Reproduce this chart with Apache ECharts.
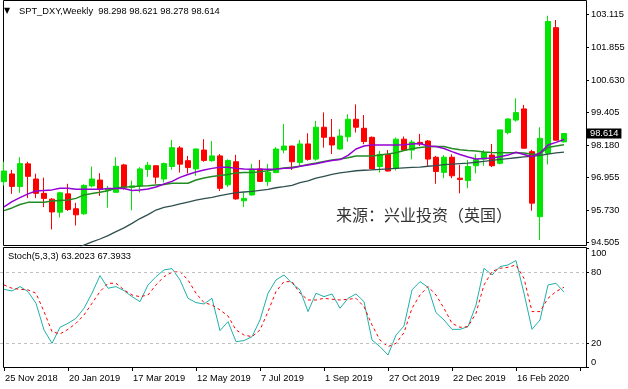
<!DOCTYPE html>
<html><head><meta charset="utf-8">
<script src="https://cdn.jsdelivr.net/npm/echarts@6/dist/echarts.min.js"></script>
<style>html,body{margin:0;padding:0;background:#fff}#c{width:628px;height:389px}</style>
</head><body><div id="c"></div>
<script>
const dates = ["25 Nov 2018","2 Dec 2018","9 Dec 2018","16 Dec 2018","23 Dec 2018","30 Dec 2018","6 Jan 2019","13 Jan 2019","20 Jan 2019","27 Jan 2019","3 Feb 2019","10 Feb 2019","17 Feb 2019","24 Feb 2019","3 Mar 2019","10 Mar 2019","17 Mar 2019","24 Mar 2019","31 Mar 2019","7 Apr 2019","14 Apr 2019","21 Apr 2019","28 Apr 2019","5 May 2019","12 May 2019","19 May 2019","26 May 2019","2 Jun 2019","9 Jun 2019","16 Jun 2019","23 Jun 2019","30 Jun 2019","7 Jul 2019","14 Jul 2019","21 Jul 2019","28 Jul 2019","4 Aug 2019","11 Aug 2019","18 Aug 2019","25 Aug 2019","1 Sep 2019","8 Sep 2019","15 Sep 2019","22 Sep 2019","29 Sep 2019","6 Oct 2019","13 Oct 2019","20 Oct 2019","27 Oct 2019","3 Nov 2019","10 Nov 2019","17 Nov 2019","24 Nov 2019","1 Dec 2019","8 Dec 2019","15 Dec 2019","22 Dec 2019","29 Dec 2019","5 Jan 2020","12 Jan 2020","19 Jan 2020","26 Jan 2020","2 Feb 2020","9 Feb 2020","16 Feb 2020","23 Feb 2020","1 Mar 2020","8 Mar 2020","15 Mar 2020","22 Mar 2020","29 Mar 2020"];
const opens  = [96.80,97.09,96.62,97.47,96.90,96.36,96.14,95.65,96.34,95.78,95.59,96.64,96.86,96.47,96.40,97.43,96.59,96.64,97.26,97.40,96.90,97.37,98.07,97.59,97.28,97.99,97.59,97.77,96.68,97.55,96.08,96.30,97.28,96.80,97.14,97.99,98.14,97.52,98.22,97.65,98.85,98.47,98.03,98.49,99.15,98.81,98.47,97.37,97.83,97.30,98.40,97.99,98.28,98.33,97.72,97.15,97.72,96.93,96.84,97.40,97.65,97.80,97.49,98.65,99.12,99.54,97.93,95.48,97.87,102.60,98.298];
const highs  = [97.55,97.24,97.72,97.55,97.10,96.95,96.18,96.42,96.72,96.00,96.70,97.37,97.12,96.64,97.72,97.47,96.84,97.35,97.54,97.42,97.52,98.37,98.14,97.77,98.05,98.40,98.33,97.84,97.64,97.81,96.40,97.47,97.62,97.47,98.10,98.97,98.16,98.37,98.62,99.09,99.41,99.16,98.78,99.34,99.71,99.31,98.50,97.96,97.99,98.46,98.50,98.37,98.60,98.37,97.77,97.80,97.83,97.43,97.62,97.83,97.99,98.22,98.76,99.19,99.94,99.69,98.00,98.85,103.05,102.89,98.621];
const lows   = [96.65,96.34,96.38,96.18,96.18,95.84,95.00,95.45,95.70,95.15,95.55,96.59,96.26,95.82,96.38,96.50,95.72,96.39,96.98,96.72,96.77,97.25,97.14,97.11,97.02,97.55,97.55,96.45,96.60,96.12,95.84,96.27,96.80,96.64,97.12,97.87,97.24,97.39,97.59,97.59,98.08,97.84,98.00,98.30,98.65,98.21,97.26,97.14,97.18,97.22,97.96,97.64,98.14,97.39,96.72,96.93,96.93,96.36,96.55,97.11,97.40,97.35,97.45,98.58,99.06,98.04,95.71,94.60,97.45,98.33,98.278];
const closes = [97.20,96.62,97.48,97.00,96.36,96.17,95.66,96.38,95.75,95.55,96.66,96.90,96.51,96.53,97.38,96.59,96.64,97.28,97.42,96.97,97.48,98.08,97.46,97.33,98.03,97.60,97.77,96.55,97.60,96.15,96.17,97.27,96.81,97.15,98.03,98.14,97.55,98.22,97.64,98.85,98.47,98.18,98.52,99.15,98.85,98.31,97.28,97.83,97.20,98.40,97.99,98.29,98.22,97.65,97.18,97.72,97.02,96.88,97.37,97.64,97.89,97.40,98.75,99.16,99.40,98.06,95.99,98.43,102.83,98.36,98.614];
const maPurple = [95.85,96.05,96.20,96.34,96.45,96.47,96.49,96.55,96.55,96.51,96.51,96.51,96.51,96.54,96.54,96.54,96.47,96.49,96.52,96.60,96.71,96.81,96.96,97.07,97.16,97.24,97.30,97.34,97.34,97.30,97.28,97.27,97.27,97.27,97.28,97.30,97.31,97.38,97.43,97.47,97.54,97.60,97.63,97.79,98.03,98.14,98.18,98.18,98.18,98.18,98.19,98.22,98.24,98.14,98.12,98.05,97.93,97.82,97.73,97.65,97.67,97.69,97.74,97.80,97.91,97.82,97.74,97.88,98.18,98.28,98.39];
const maGreen = [95.71,95.81,95.94,96.02,96.02,96.02,96.07,96.09,96.11,96.17,96.30,96.35,96.40,96.46,96.56,96.60,96.61,96.64,96.65,96.67,96.69,96.74,96.74,96.74,96.86,96.94,96.99,97.03,97.07,97.13,97.14,97.14,97.17,97.21,97.27,97.31,97.34,97.38,97.45,97.50,97.56,97.62,97.65,97.70,97.77,97.77,97.77,97.80,97.84,97.89,97.97,98.04,98.09,98.11,98.12,98.12,98.05,98.00,97.97,97.95,97.92,97.90,97.89,97.89,97.89,97.88,97.83,97.84,98.09,98.14,98.19];
const maSlate = [null,null,null,null,null,null,null,null,null,94.26,94.41,94.53,94.64,94.77,94.92,95.06,95.23,95.41,95.56,95.73,95.83,95.89,95.96,96.03,96.10,96.16,96.21,96.27,96.33,96.39,96.41,96.43,96.47,96.51,96.57,96.61,96.66,96.76,96.83,96.93,97.00,97.07,97.13,97.17,97.21,97.23,97.24,97.26,97.28,97.30,97.32,97.34,97.35,97.38,97.40,97.44,97.46,97.48,97.50,97.53,97.56,97.60,97.64,97.67,97.70,97.73,97.75,97.79,97.84,97.88,97.91];
const stochK = [65.6,64.2,67.9,63.7,53.8,31.3,20.0,33.5,36.9,41.1,49.6,62.3,77.2,66.5,67.9,64.5,59.4,55.2,69.3,76.3,82.0,83.1,73.5,58.0,54.4,53.2,58.0,30.7,38.3,21.4,22.3,25.6,39.7,62.3,73.5,77.7,70.7,65.1,46.8,62.3,59.4,61.7,49.6,58.0,61.7,55.2,22.8,17.2,10.1,27.0,34.6,65.1,72.1,67.3,45.9,39.7,31.8,31.8,34.1,52.4,83.4,77.7,84.8,86.2,89.9,62.3,31.8,39.7,69.3,70.7,63.2023];
const stochD = [69.3,66.5,65.6,65.1,62.3,46.8,29.9,27.9,31.8,36.9,43.9,53.8,63.7,70.7,70.7,65.1,60.8,59.4,60.8,69.3,76.3,80.0,80.6,73.5,62.3,54.4,52.4,48.2,43.1,31.3,27.0,25.6,31.3,46.8,63.7,72.1,72.1,62.3,56.6,56.6,58.0,57.2,56.6,57.2,58.0,51.0,35.5,22.8,17.2,20.0,29.0,49.6,60.8,67.9,60.8,49.6,36.9,33.5,34.1,45.4,69.3,80.6,83.4,84.2,86.2,74.9,46.8,46.8,58.0,63.7,67.3933];
const priceTicks = [94.505,95.730,96.955,98.180,99.405,100.630,101.855,103.115];
const stochLevels = [20,80];
const symbolName = "SPT_DXY,Weekly";
const stochName = "Stoch(5,3,3)";
const sourceText = "来源：兴业投资（英国）";

const cats = dates.concat(['','']);
const n = closes.length - 1;
const candles = opens.map((o,i)=>[o, closes[i], lows[i], highs[i]]);
const FONT = 'Liberation Sans';
const FS = 9.3;
const chart = echarts.init(document.getElementById('c'), null, {renderer:'canvas'});
const pMin = 94.395, pMax = 103.529;
const baseY = (grid, extra) => Object.assign({
  type:'value', gridIndex:grid, position:'right', offset:2, scale:true,
  splitLine:{show:false}, axisLine:{show:false},
  axisTick:{show:true, length:3, lineStyle:{color:'#000'}},
  axisLabel:{color:'#000', fontSize:FS, fontFamily:FONT, margin:5}
}, extra);
chart.setOption({
  animation:false,
  backgroundColor:'#fff',
  grid:[{left:0, top:3, width:584, height:242.5},{left:0, top:248.6, width:584, height:118.4}],
  xAxis:[
    {type:'category', gridIndex:0, data:cats, boundaryGap:true, axisLine:{show:false}, axisTick:{show:false}, axisLabel:{show:false}},
    {type:'category', gridIndex:1, data:cats, boundaryGap:true, axisLine:{show:false},
     axisTick:{show:true, alignWithLabel:true, interval:7, length:4, lineStyle:{color:'#000'}},
     axisLabel:{interval:7, align:'left', margin:7, color:'#000', fontSize:FS, fontFamily:FONT, padding:[0,0,0,1]}}
  ],
  yAxis:[
    baseY(0,{min:pMin, max:pMax, axisTick:{show:true,length:3,lineStyle:{color:'#000'},customValues:priceTicks},
      axisLabel:{color:'#000', fontSize:FS, fontFamily:FONT, margin:5, customValues:priceTicks, formatter:v=>v.toFixed(3)}}),
    baseY(0,{min:pMin, max:pMax, axisTick:{show:false},
      axisLabel:{customValues:[closes[n]], formatter:v=>v.toFixed(3), color:'#fff', backgroundColor:'#000', padding:[1,3,0,3], margin:1, fontSize:FS, fontFamily:FONT}}),
    baseY(1,{min:0, max:100, axisTick:{show:true,length:3,lineStyle:{color:'#000'},customValues:stochLevels},
      axisLabel:{color:'#000', fontSize:FS, fontFamily:FONT, margin:5, customValues:stochLevels}}),
    baseY(1,{min:0, max:100, axisTick:{show:true,length:3,lineStyle:{color:'#000'},customValues:[100]},
      axisLabel:{color:'#000', fontSize:FS, fontFamily:FONT, margin:5, customValues:[100], verticalAlign:'top'}}),
    baseY(1,{min:0, max:100, axisTick:{show:true,length:3,lineStyle:{color:'#000'},customValues:[0]},
      axisLabel:{color:'#000', fontSize:FS, fontFamily:FONT, margin:5, customValues:[0], verticalAlign:'bottom'}})
  ],
  series:[
    {type:'candlestick', xAxisIndex:0, yAxisIndex:0, data:candles, barWidth:5, silent:true,
     itemStyle:{color:'#00e600', color0:'#ff0000', borderColor:'#00e600', borderColor0:'#ff0000', borderWidth:1}},
    {type:'line', xAxisIndex:0, yAxisIndex:0, data:maSlate, showSymbol:false, silent:true, lineStyle:{color:'#2f4f4f', width:1.3}},
    {type:'line', xAxisIndex:0, yAxisIndex:0, data:maGreen, showSymbol:false, silent:true, lineStyle:{color:'#228b22', width:1.5}},
    {type:'line', xAxisIndex:0, yAxisIndex:0, data:maPurple, showSymbol:false, silent:true, lineStyle:{color:'#9400d3', width:1.5}},
    {type:'line', xAxisIndex:1, yAxisIndex:2, data:stochK, showSymbol:false, silent:true, lineStyle:{color:'#20b2aa', width:1},
     markLine:{silent:true, symbol:'none', label:{show:false}, lineStyle:{color:'#c0c0c0', type:[3,3], width:1},
       data:stochLevels.map(v=>({yAxis:v}))}},
    {type:'line', xAxisIndex:1, yAxisIndex:2, data:stochD, showSymbol:false, silent:true, lineStyle:{color:'#ff0000', width:1, type:[3,3]}}
  ],
  graphic:[
    {type:'rect', shape:{x:3.5, y:0.5, width:583, height:245}, style:{fill:'none', stroke:'#000', lineWidth:1}, silent:true},
    {type:'rect', shape:{x:3.5, y:247.5, width:583, height:120}, style:{fill:'none', stroke:'#000', lineWidth:1}, silent:true},
    {type:'text', left:4, top:7, style:{text:'▼', fontSize:8, fontFamily:'DejaVu Sans', fill:'#000'}},
    {type:'text', left:19, top:6.5, style:{text:symbolName + '  ' + [opens[n],highs[n],lows[n],closes[n]].map(v=>v.toFixed(3)).join(' '), fontSize:FS, fontFamily:FONT, fill:'#000'}},
    {type:'text', left:8, top:252, style:{text:stochName + ' ' + stochK[n].toFixed(4) + ' ' + stochD[n].toFixed(4), fontSize:FS, fontFamily:FONT, fill:'#000'}},
    {type:'text', left:336, top:207, style:{text:sourceText, fontSize:16, fontFamily:'Noto Sans CJK SC', fill:'#333'}}
  ]
});
</script></body></html>
